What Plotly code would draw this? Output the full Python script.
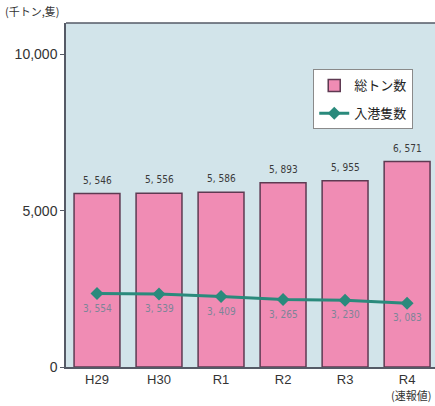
import plotly.graph_objects as go

categories = ["H29", "H30", "R1", "R2", "R3", "R4"]
gross_tonnage = [5546, 5556, 5586, 5893, 5955, 6571]   # 千トン
ship_calls = [3554, 3539, 3409, 3265, 3230, 3083]       # 隻
y_ticks = [0, 5000, 10000]
y_tick_labels = ["0", "5,000", "10,000"]

def fmt(v):
    return f"{v:,}".replace(",", ", ")

num_font = "Liberation Sans Narrow, DejaVu Sans Condensed, Arial Narrow, sans-serif"
jp_font = "Noto Sans CJK JP, sans-serif"
tick_font = dict(size=14, family="Liberation Sans, Arial, sans-serif", color="#333")

fig = go.Figure()
fig.add_trace(go.Bar(
    x=categories, y=gross_tonnage, name="総トン数",
    marker=dict(color="#f08cb4", line=dict(color="#5e3a52", width=1.5)),
    legendgroup="a",
))
fig.add_trace(go.Scatter(
    x=categories, y=ship_calls, name="入港隻数", yaxis="y2",
    mode="lines+markers",
    line=dict(color="#2a8a7c", width=3),
    marker=dict(symbol="diamond", size=10, color="#2a8a7c"),
    cliponaxis=False, legendgroup="b",
))

annotations = []
for c, v in zip(categories, gross_tonnage):
    annotations.append(dict(x=c, y=v, xref="x", yref="y", text=fmt(v),
                            showarrow=False, yanchor="bottom", yshift=6,
                            font=dict(size=10, color="#3a3a3a", family=num_font)))
for c, v in zip(categories, ship_calls):
    annotations.append(dict(x=c, y=v, xref="x", yref="y2", text=fmt(v),
                            showarrow=False, yanchor="top", yshift=-7,
                            font=dict(size=10, color="#7d8598", family=num_font)))
annotations += [
    dict(text="(千トン,隻)", xref="paper", yref="paper", x=-0.172, y=1.005,
         xanchor="left", yanchor="bottom", showarrow=False,
         font=dict(size=11, family=jp_font, color="#333")),
    dict(text="(速報値)", xref="paper", yref="paper", x=0.995, y=-0.08,
         xanchor="right", yanchor="middle", showarrow=False,
         font=dict(size=11, family=jp_font, color="#333")),
]

fig.update_layout(
    width=435, height=406,
    margin=dict(l=66, r=0, t=23, b=39),
    paper_bgcolor="white", plot_bgcolor="#d2e4ea",
    bargap=0.26,
    showlegend=True,
    legend=dict(x=0.67, y=0.865, xanchor="left", yanchor="top",
                bgcolor="white", bordercolor="#8a8a8a", borderwidth=1,
                font=dict(size=13, family=jp_font, color="#222"),
                tracegroupgap=8, traceorder="grouped"),
    xaxis=dict(range=[-0.5, 5.45], showgrid=False, ticks="",
               showline=True, linecolor="#555a66", linewidth=1.5,
               tickfont=dict(size=13, family="Liberation Sans, Arial, sans-serif", color="#333"),
               ticklabelstandoff=0),
    yaxis=dict(range=[0, 11000], tickvals=y_ticks, ticktext=y_tick_labels,
               showgrid=False, zeroline=False, ticks="outside", ticklen=4,
               tickcolor="#555a66",
               showline=True, linecolor="#555a66", linewidth=1.5,
               tickfont=tick_font),
    yaxis2=dict(range=[0, 16650], overlaying="y", visible=False),
    shapes=[dict(type="line", xref="paper", yref="paper", x0=0, x1=1, y0=1, y1=1,
                 line=dict(color="#555a66", width=1.5))],
    annotations=annotations,
)

fig.write_html("out.html")
